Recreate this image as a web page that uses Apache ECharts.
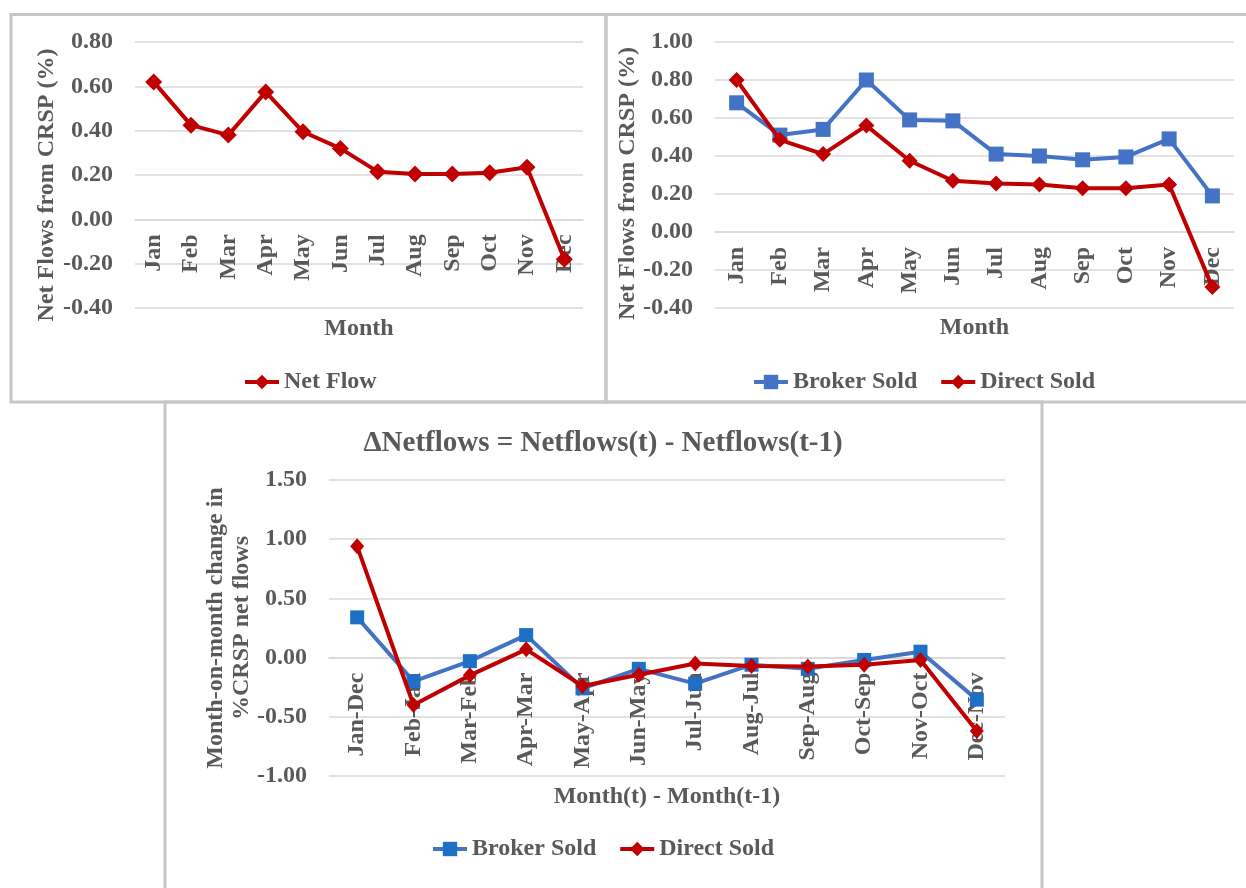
<!DOCTYPE html>
<html>
<head>
<meta charset="utf-8">
<script src="https://cdn.jsdelivr.net/npm/echarts@6/dist/echarts.min.js"></script>
<style>
  html, body { margin: 0; padding: 0; background: #ffffff; }
  #chart { width: 1246px; height: 888px; }
</style>
</head>
<body>
<div id="chart"></div>
<script>
// Monthly net flows (% of CRSP)
const months = ['Jan', 'Feb', 'Mar', 'Apr', 'May', 'Jun', 'Jul', 'Aug', 'Sep', 'Oct', 'Nov', 'Dec'];
const netFlow = [0.62, 0.425, 0.38, 0.575, 0.395, 0.32, 0.215, 0.205, 0.205, 0.21, 0.235, -0.18];
const brokerSold = [0.68, 0.51, 0.54, 0.80, 0.59, 0.585, 0.41, 0.40, 0.38, 0.395, 0.49, 0.19];
const directSold = [0.80, 0.485, 0.41, 0.56, 0.375, 0.27, 0.255, 0.25, 0.23, 0.23, 0.25, -0.29];

// Month-on-month changes
const monthPairs = ['Jan-Dec', 'Feb-Jan', 'Mar-Feb', 'Apr-Mar', 'May-Apr', 'Jun-May', 'Jul-Jun', 'Aug-Jul', 'Sep-Aug', 'Oct-Sep', 'Nov-Oct', 'Dec-Nov'];
const brokerChange = [0.34, -0.20, -0.03, 0.19, -0.26, -0.095, -0.22, -0.06, -0.095, -0.02, 0.05, -0.355];
const directChange = [0.94, -0.40, -0.15, 0.07, -0.24, -0.145, -0.05, -0.07, -0.075, -0.06, -0.02, -0.62];

// Value-axis ranges
const rangeTop = { min: -0.4, max: 0.8, interval: 0.2 };
const rangeSplit = { min: -0.4, max: 1.0, interval: 0.2 };
const rangeChange = { min: -1.0, max: 1.5, interval: 0.5 };

const FONT = "'Liberation Serif', 'Times New Roman', serif";
const TEXT = '#595959';
const GRID_LINE = '#d9d9d9';
const BLUE = '#4472C4';
const RED = '#C00000';
const PANEL = '#c6c6c6';

const grids = [
  { left: 135, top: 42, width: 448, height: 266 },
  { left: 715, top: 42, width: 519, height: 266 },
  { left: 329, top: 480, width: 676, height: 296 }
];

const textStyle = (size) => ({ fontFamily: FONT, fontWeight: 'bold', fontSize: size, color: TEXT });

// The category axis sits on the zero line of its value axis.
function zeroOffset(grid, range) {
  return -grid.height * (0 - range.min) / (range.max - range.min);
}

function catAxis(gridIndex, data, range, name, nameGap) {
  return {
    type: 'category', gridIndex, data, boundaryGap: true,
    offset: zeroOffset(grids[gridIndex], range),
    name, nameLocation: 'middle', nameGap, nameMoveOverlap: false,
    nameTextStyle: textStyle(24),
    axisLine: { show: true, onZero: false, lineStyle: { color: GRID_LINE, width: 1.5 } },
    axisTick: { show: false },
    axisLabel: { ...textStyle(24), rotate: 90, margin: 15, interval: 0 }
  };
}

function valAxis(gridIndex, range, name, nameGap, shift) {
  return {
    type: 'value', gridIndex, min: range.min, max: range.max, interval: range.interval,
    name, nameLocation: 'middle', nameGap, nameMoveOverlap: false,
    nameTextStyle: { ...textStyle(24), lineHeight: 26, padding: [0, shift, 0, 0] },
    axisLine: { show: false },
    axisTick: { show: false },
    splitLine: { lineStyle: { color: GRID_LINE, width: 1.5 } },
    axisLabel: { ...textStyle(24), margin: 22, formatter: (v) => v.toFixed(2) }
  };
}

function lineSeries(name, data, axisIndex, color, symbol, size, markerColor) {
  return {
    name, type: 'line', data,
    xAxisIndex: axisIndex, yAxisIndex: axisIndex,
    symbol, symbolSize: size, showAllSymbol: true,
    lineStyle: { color, width: 4 },
    itemStyle: { color: markerColor || color },
    emphasis: { disabled: true },
    z: symbol === 'diamond' ? 4 : 3
  };
}

const legendBase = {
  padding: 0,
  itemWidth: 34, itemHeight: 18, itemGap: 22,
  textStyle: textStyle(24), selectedMode: false,
  lineStyle: { width: 4 }
};

const chart = echarts.init(document.getElementById('chart'), null, { renderer: 'canvas' });

chart.setOption({
  animation: false,
  backgroundColor: '#ffffff',
  title: {
    text: 'ΔNetflows = Netflows(t) - Netflows(t-1)',
    left: 598, top: 424, textAlign: 'center',
    textStyle: textStyle(29)
  },
  graphic: [
    { type: 'rect', shape: { x: 11, y: 14.5, width: 595, height: 387.5 }, style: { fill: 'none', stroke: PANEL, lineWidth: 3 }, silent: true, z: -1 },
    { type: 'rect', shape: { x: 606, y: 14.5, width: 650, height: 387.5 }, style: { fill: 'none', stroke: PANEL, lineWidth: 3 }, silent: true, z: -1 },
    { type: 'rect', shape: { x: 165, y: 402, width: 877, height: 500 }, style: { fill: 'none', stroke: PANEL, lineWidth: 3 }, silent: true, z: -1 }
  ],
  legend: [
    { ...legendBase, data: ['Net Flow'], left: 243, top: 370 },
    { ...legendBase, data: ['Broker Sold ', 'Direct Sold '], left: 752, top: 370, formatter: (n) => n.trim() },
    { ...legendBase, data: ['Broker Sold', 'Direct Sold'], left: 431, top: 837 }
  ],
  grid: grids,
  xAxis: [
    catAxis(0, months, rangeTop, 'Month', 97),
    catAxis(1, months, rangeSplit, 'Month', 84),
    catAxis(2, monthPairs, rangeChange, 'Month(t) - Month(t-1)', 127)
  ],
  yAxis: [
    valAxis(0, rangeTop, 'Net Flows from CRSP (%)', 75, 20),
    valAxis(1, rangeSplit, 'Net Flows from CRSP (%)', 74, 17),
    valAxis(2, rangeChange, 'Month-on-month change in\n%CRSP net flows', 74, 0)
  ],
  series: [
    lineSeries('Net Flow', netFlow, 0, RED, 'diamond', 17),
    lineSeries('Broker Sold ', brokerSold, 1, BLUE, 'rect', 15),
    lineSeries('Direct Sold ', directSold, 1, RED, 'diamond', 16),
    lineSeries('Broker Sold', brokerChange, 2, BLUE, 'rect', 14, '#1F6FC6'),
    lineSeries('Direct Sold', directChange, 2, RED, 'diamond', [14, 16])
  ]
});
</script>
</body>
</html>
